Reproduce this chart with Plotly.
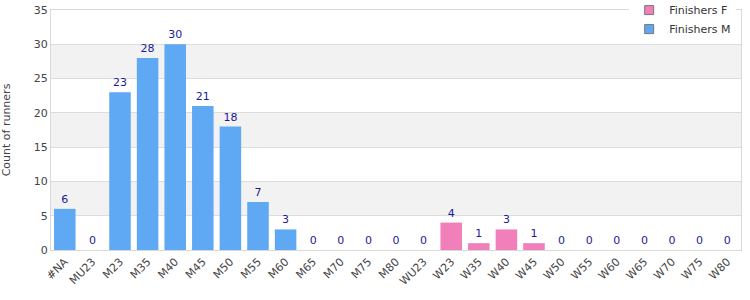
import plotly.graph_objects as go

cats_m = ["#NA", "MU23", "M23", "M35", "M40", "M45", "M50", "M55", "M60", "M65", "M70", "M75", "M80"]
vals_m = [6, 0, 23, 28, 30, 21, 18, 7, 3, 0, 0, 0, 0]
cats_f = ["WU23", "W23", "W35", "W40", "W45", "W50", "W55", "W60", "W65", "W70", "W75", "W80"]
vals_f = [0, 4, 1, 3, 1, 0, 0, 0, 0, 0, 0, 0]

col_m = "#5fa8f4"
col_f = "#f07fba"
txt_col = "#1c1c96"
font = "DejaVu Sans"

fig = go.Figure()
fig.add_trace(go.Bar(x=cats_m, y=vals_m, marker=dict(color=col_m, line=dict(width=0)),
                     text=[str(v) for v in vals_m], textposition="outside",
                     textfont=dict(color=txt_col, size=11, family=font),
                     cliponaxis=False, showlegend=False, name="Finishers M"))
fig.add_trace(go.Bar(x=cats_f, y=vals_f, marker=dict(color=col_f, line=dict(width=0)),
                     text=[str(v) for v in vals_f], textposition="outside",
                     textfont=dict(color=txt_col, size=11, family=font),
                     cliponaxis=False, showlegend=False, name="Finishers F"))
# legend entries
fig.add_trace(go.Scatter(x=[None], y=[None], mode="markers", name="Finishers F",
                         marker=dict(symbol="square", size=9, color=col_f, line=dict(color="#777", width=1))))
fig.add_trace(go.Scatter(x=[None], y=[None], mode="markers", name="Finishers M",
                         marker=dict(symbol="square", size=9, color=col_m, line=dict(color="#777", width=1))))

shapes = []
for lo in (5, 15, 25):
    shapes.append(dict(type="rect", xref="paper", yref="y", x0=0, x1=1, y0=lo, y1=lo + 5,
                       fillcolor="#f2f2f2", line=dict(width=0), layer="below"))

fig.update_layout(
    width=750, height=300,
    margin=dict(l=51, r=9, t=10, b=50, autoexpand=False),
    paper_bgcolor="white", plot_bgcolor="white",
    barmode="overlay", bargap=0.22,
    font=dict(family=font, size=11, color="#444"),
    shapes=shapes,
    legend=dict(x=0.993, y=1.06, xanchor="right", yanchor="top",
                bgcolor="white", font=dict(size=11, color="#333"), itemwidth=30,
                tracegroupgap=0, traceorder="normal", borderwidth=0),
    xaxis=dict(categoryorder="array", categoryarray=cats_m + cats_f, tickangle=-45,
               showline=True, linecolor="#d9d9d9", mirror=True, showgrid=False,
               ticks="", tickfont=dict(size=11, color="#444"), fixedrange=True),
    yaxis=dict(range=[0, 35], dtick=5, showline=True, linecolor="#d9d9d9", mirror=True,
               showgrid=True, gridcolor="#dcdcdc", zeroline=False,
               title=dict(text="Count of runners", font=dict(size=11, color="#444"), standoff=20),
               tickfont=dict(size=11, color="#444")),
)

fig.write_html("out.html")
